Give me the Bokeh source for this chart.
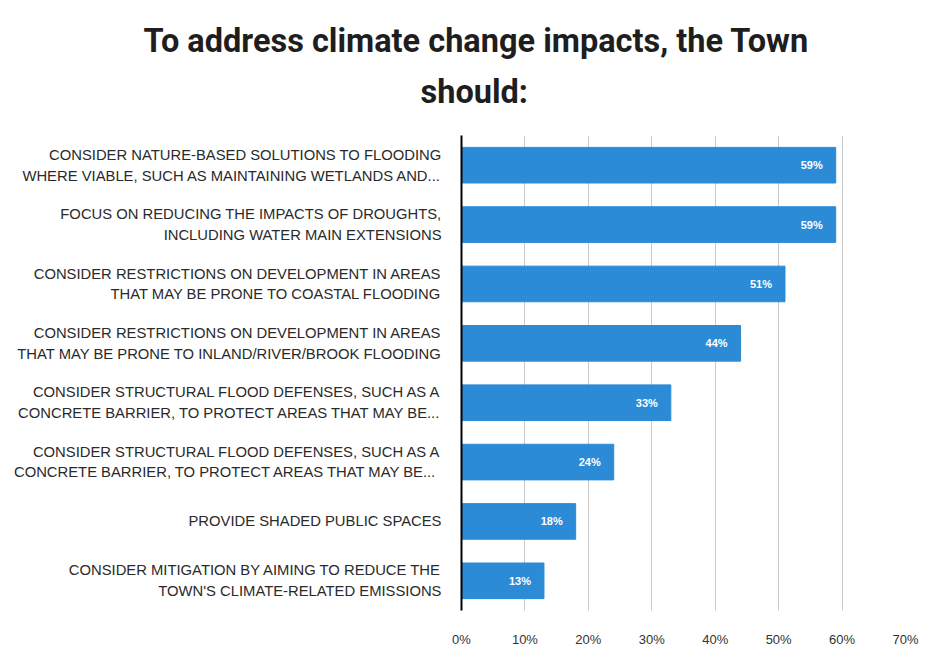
from bokeh.plotting import figure
from bokeh.models import FactorRange, Range1d, Title, FixedTicker, PrintfTickFormatter, ColumnDataSource
from bokeh.core.properties import value
from bokeh.embed import file_html
from bokeh.resources import INLINE

categories = [
    "CONSIDER NATURE-BASED SOLUTIONS TO FLOODING\nWHERE VIABLE, SUCH AS MAINTAINING WETLANDS AND...",
    "FOCUS ON REDUCING THE IMPACTS OF DROUGHTS,\nINCLUDING WATER MAIN EXTENSIONS",
    "CONSIDER RESTRICTIONS ON DEVELOPMENT IN AREAS\nTHAT MAY BE PRONE TO COASTAL FLOODING",
    "CONSIDER RESTRICTIONS ON DEVELOPMENT IN AREAS\nTHAT MAY BE PRONE TO INLAND/RIVER/BROOK FLOODING",
    "CONSIDER STRUCTURAL FLOOD DEFENSES, SUCH AS A\nCONCRETE BARRIER, TO PROTECT AREAS THAT MAY BE...",
    "CONSIDER STRUCTURAL FLOOD DEFENSES, SUCH AS A\nCONCRETE BARRIER, TO PROTECT AREAS THAT MAY BE... ",
    "PROVIDE SHADED PUBLIC SPACES",
    "CONSIDER MITIGATION BY AIMING TO REDUCE THE\nTOWN'S CLIMATE-RELATED EMISSIONS",
]
values = [59, 59, 51, 44, 33, 24, 18, 13]
value_labels = [f"{v}%" for v in values]
x_ticks = [0, 10, 20, 30, 40, 50, 60, 70]
title_line1 = "To address climate change impacts, the Town"
title_line2 = "should:"

src = ColumnDataSource(dict(cat=categories, val=values, lab=value_labels))

p = figure(width=933, height=652, output_backend="svg", toolbar_location=None,
           y_range=FactorRange(factors=list(reversed(categories)), range_padding=0),
           x_range=Range1d(0, 70),
           min_border_left=461, min_border_right=28, min_border_top=135, min_border_bottom=42)
p.outline_line_color = None
p.background_fill_color = "white"
p.border_fill_color = "white"

p.hbar(y="cat", right="val", left=0, height=0.6, source=src, color="#2b8bd6")
p.text(x="val", y="cat", text="lab", source=src, text_align="right", text_baseline="middle",
       x_offset=-13, text_color="white", text_font_size="11px", text_font_style="bold",
       text_font=value("Liberation Sans"))

p.xaxis.ticker = FixedTicker(ticks=x_ticks)
p.xaxis.formatter = PrintfTickFormatter(format="%d%%")
p.xaxis.axis_line_color = None
p.xaxis.major_tick_line_color = None
p.xaxis.minor_tick_line_color = None
p.xaxis.major_label_standoff = 15
p.xaxis.major_label_text_font = "Liberation Sans"
p.xaxis.major_label_text_font_size = "13px"
p.xaxis.major_label_text_color = "#333333"

p.yaxis.axis_line_color = "black"
p.yaxis.axis_line_width = 2
p.yaxis.major_tick_line_color = None
p.yaxis.minor_tick_line_color = None
p.yaxis.major_label_standoff = 14
p.yaxis.major_label_text_font = "Liberation Sans"
p.yaxis.major_label_text_font_size = "14.8px"
p.yaxis.major_label_text_line_height = 1.3
p.yaxis.major_label_text_color = "#2a2a2a"

p.xgrid.ticker = FixedTicker(ticks=x_ticks)
p.xgrid.grid_line_color = "#c8c8c8"
p.ygrid.grid_line_color = None

t2 = Title(text=title_line2, align="left", offset=-41, standoff=49,
           text_font="Roboto", text_font_style="bold",
           text_font_size="32.5px", text_color="#1e1e1e")
t1 = Title(text=title_line1, align="left", offset=-318, standoff=-27,
           text_font="Roboto", text_font_style="bold",
           text_font_size="32.5px", text_color="#1e1e1e")
p.add_layout(t2, "above")
p.add_layout(t1, "above")

open("out.html", "w").write(file_html(p, INLINE))
